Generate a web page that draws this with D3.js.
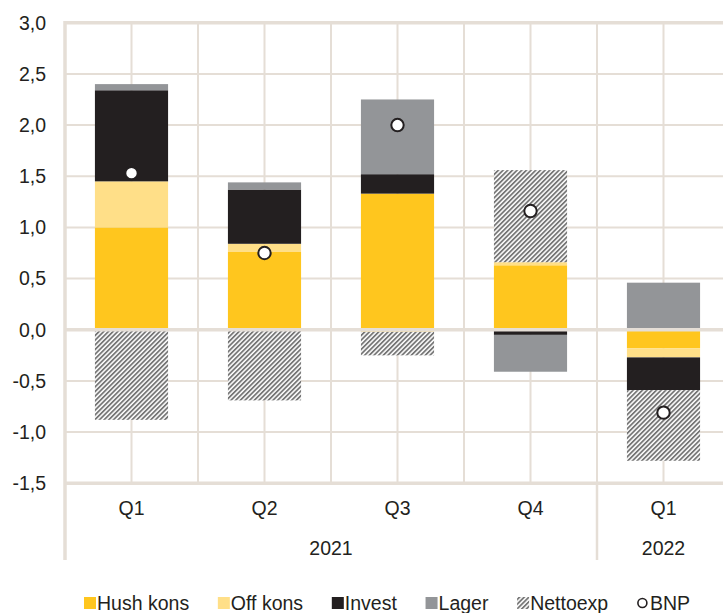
<!DOCTYPE html>
<html>
<head>
<meta charset="utf-8">
<script src="https://cdn.jsdelivr.net/npm/d3@7"></script>
<style>
  html, body { margin: 0; padding: 0; background: #fff; }
  svg { display: block; font-family: "Liberation Sans", Arial, sans-serif; }
</style>
</head>
<body>
<svg id="chart" width="723" height="613"></svg>
<script>
// Contributions to GDP growth by component, percentage points
const quarters = ["Q1", "Q2", "Q3", "Q4", "Q1"];
const yearOfQuarter = ["2021", "2021", "2021", "2021", "2022"];
const hushKons = [1.00, 0.76, 1.33, 0.63, -0.18];
const offKons  = [0.45, 0.08, -0.02, 0.03, -0.09];
const invest   = [0.89, 0.53, 0.19, -0.05, -0.32];
const lager    = [0.06, 0.07, 0.73, -0.36, 0.46];
const nettoexp = [-0.88, -0.69, -0.23, 0.90, -0.69];
const bnp      = [1.53, 0.75, 2.00, 1.16, -0.81];
const yTicks = [-1.5, -1.0, -0.5, 0.0, 0.5, 1.0, 1.5, 2.0, 2.5, 3.0];

const seriesNames = ["Hush kons", "Off kons", "Invest", "Lager", "Nettoexp"];
const seriesValues = [hushKons, offKons, invest, lager, nettoexp];
const seriesFill = ["#FFC61E", "#FFDF88", "#231F20", "#939598", "url(#hatch)"];

const svg = d3.select("#chart");
const gridColor = "#E5DED6";
const ink = "#231F20";
const fontSize = 19.5;

const plotLeft = 65, plotRight = 730, plotTop = 22.7, plotBottom = 483.3;

const rows = quarters.map((q, i) => {
  const r = { idx: i };
  seriesNames.forEach((s, k) => r[s] = seriesValues[k][i]);
  return r;
});

const x = d3.scaleBand()
  .domain(d3.range(quarters.length))
  .range([plotLeft, plotRight])
  .paddingInner(0.45)
  .paddingOuter(0.225);
const step = x.step();

const y = d3.scaleLinear().domain([-1.5, 3.0]).range([plotBottom, plotTop]);

// hatch pattern for net exports
const defs = svg.append("defs");
const pat = defs.append("pattern")
  .attr("id", "hatch")
  .attr("patternUnits", "userSpaceOnUse")
  .attr("width", 3.3).attr("height", 3.3)
  .attr("patternTransform", "rotate(45)");
pat.append("rect").attr("width", 3.3).attr("height", 3.3).attr("fill", "#ffffff");
pat.append("rect").attr("width", 1.8).attr("height", 3.3).attr("fill", "#777777");

// grid lines
const gridG = svg.append("g");
gridG.selectAll("line.h")
  .data(yTicks.filter(t => t !== 0 && t !== -1.5 && t !== 3.0))
  .join("line")
  .attr("x1", plotLeft).attr("x2", plotRight)
  .attr("y1", d => y(d)).attr("y2", d => y(d))
  .attr("stroke", gridColor).attr("stroke-width", 2);
const vLines = d3.range(1, quarters.length * 2 + 1).map(k => plotLeft + k * step / 2);
gridG.selectAll("line.v")
  .data(vLines)
  .join("line")
  .attr("x1", d => d).attr("x2", d => d)
  .attr("y1", plotTop).attr("y2", plotBottom)
  .attr("stroke", gridColor).attr("stroke-width", 2);
gridG.append("line")
  .attr("x1", plotLeft).attr("x2", plotRight)
  .attr("y1", y(3.0)).attr("y2", y(3.0))
  .attr("stroke", gridColor).attr("stroke-width", 3.5);

// stacked bars (diverging)
const stack = d3.stack().keys(seriesNames).offset(d3.stackOffsetDiverging);
const layers = stack(rows);
svg.append("g").selectAll("g")
  .data(layers)
  .join("g")
  .attr("fill", (d, i) => seriesFill[i])
  .selectAll("rect")
  .data(d => d)
  .join("rect")
  .attr("x", d => x(d.data.idx))
  .attr("width", x.bandwidth())
  .attr("y", d => y(Math.max(d[0], d[1])))
  .attr("height", d => Math.abs(y(d[0]) - y(d[1])));

// zero line and axis frame
svg.append("line")
  .attr("x1", plotLeft).attr("x2", plotRight)
  .attr("y1", y(0)).attr("y2", y(0))
  .attr("stroke", gridColor).attr("stroke-width", 3.5);
svg.append("line")
  .attr("x1", plotLeft).attr("x2", plotRight)
  .attr("y1", y(-1.5)).attr("y2", y(-1.5))
  .attr("stroke", gridColor).attr("stroke-width", 3.5);
svg.append("line")
  .attr("x1", plotLeft).attr("x2", plotLeft)
  .attr("y1", plotTop - 1.75).attr("y2", 560)
  .attr("stroke", gridColor).attr("stroke-width", 3.5);
// separator between years
const sepX = plotLeft + 4 * step;
svg.append("line")
  .attr("x1", sepX).attr("x2", sepX)
  .attr("y1", plotBottom).attr("y2", 560)
  .attr("stroke", gridColor).attr("stroke-width", 2.5);

// BNP markers
svg.append("g").selectAll("circle")
  .data(bnp)
  .join("circle")
  .attr("cx", (d, i) => x(i) + x.bandwidth() / 2)
  .attr("cy", d => y(d))
  .attr("r", 6.2)
  .attr("fill", "#ffffff")
  .attr("stroke", ink)
  .attr("stroke-width", 2);

// y axis labels
const fmt = v => d3.format(".1f")(v).replace(".", ",").replace("−", "-");
svg.append("g").selectAll("text")
  .data(yTicks)
  .join("text")
  .attr("x", 46)
  .attr("y", d => y(d))
  .attr("dy", "0.35em")
  .attr("text-anchor", "end")
  .attr("font-size", fontSize)
  .attr("fill", ink)
  .text(fmt);

// quarter labels
svg.append("g").selectAll("text")
  .data(quarters)
  .join("text")
  .attr("x", (d, i) => x(i) + x.bandwidth() / 2)
  .attr("y", 508)
  .attr("dy", "0.35em")
  .attr("text-anchor", "middle")
  .attr("font-size", fontSize)
  .attr("fill", ink)
  .text(d => d);

// year labels; the last group is only partly visible, so it sits under its quarter
const yearGroups = d3.groups(quarters.map((q, i) => ({ i, year: yearOfQuarter[i] })), d => d.year);
svg.append("g").selectAll("text")
  .data(yearGroups)
  .join("text")
  .attr("x", ([, items]) => {
    if (items.length === 1) return x(items[0].i) + x.bandwidth() / 2;
    return plotLeft + (items[0].i + items[items.length - 1].i + 1) * step / 2;
  })
  .attr("y", 548)
  .attr("dy", "0.35em")
  .attr("text-anchor", "middle")
  .attr("font-size", fontSize)
  .attr("fill", ink)
  .text(([yr]) => yr);

// legend, spread across the row from 84 to 690
const legendItems = seriesNames.map((n, i) => ({ name: n, fill: seriesFill[i], type: "rect" }))
  .concat([{ name: "BNP", type: "circle" }]);
const legend = svg.append("g").attr("transform", "translate(0,603)");
const items = legend.selectAll("g")
  .data(legendItems)
  .join("g");
items.each(function (d) {
  const g = d3.select(this);
  if (d.type === "rect") {
    g.append("rect").attr("x", 0).attr("y", -6).attr("width", 12).attr("height", 12)
      .attr("fill", d.fill);
  } else {
    g.append("circle").attr("cx", 5.5).attr("cy", 0).attr("r", 4.5)
      .attr("fill", "#fff").attr("stroke", ink).attr("stroke-width", 1.6);
  }
  const t = g.append("text").attr("x", 13).attr("dy", "0.35em")
    .attr("font-size", fontSize).attr("fill", ink).text(d.name);
  d.w = 13 + t.node().getComputedTextLength();
});
const legendStart = 84, legendEnd = 690;
const gap = (legendEnd - legendStart - d3.sum(legendItems, d => d.w)) / (legendItems.length - 1);
let cursor = legendStart;
items.attr("transform", d => {
  const tr = `translate(${cursor},0)`;
  cursor += d.w + gap;
  return tr;
});
</script>
</body>
</html>
